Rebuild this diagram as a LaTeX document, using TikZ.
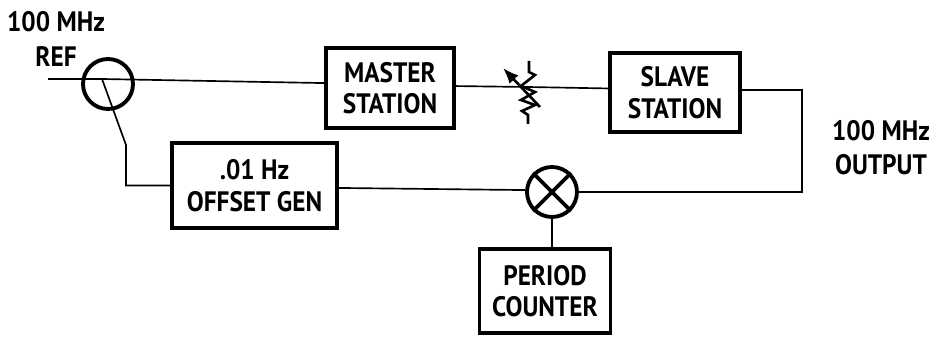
\documentclass[tikz,border=0pt]{standalone}
\usepackage{fontspec}
\setmainfont[FakeStretch=0.9]{PT Sans}
\usetikzlibrary{arrows.meta, positioning}

\begin{document}
\begin{tikzpicture}[
  x=0.02cm, y=-0.02cm,
  wire/.style={line width=0.95pt},
  box/.style={draw=black, line width=2.2pt, inner sep=0pt, align=center,
              font=\bfseries\fontsize{16}{18}\selectfont},
  roundel/.style={draw=black, line width=2.2pt, circle, inner sep=0pt, minimum size=1.0cm},
  lbl/.style={align=center, inner sep=0pt, font=\bfseries\fontsize{16}{19.5}\selectfont}
]
  \useasboundingbox (0,0) rectangle (948,337);
  \coordinate (in) at (48,79);
  \coordinate (junct) at (102,79);
  \node[roundel] (coupler) at (108,84) {};
  \node[lbl] (reflbl) at (56,39) {100 MHz\\REF};
  \node[box, minimum width=2.56cm, minimum height=1.6cm] (master) at (390,88) {MASTER\\STATION};
  \node[box, minimum width=2.6cm, minimum height=1.58cm] (slave) at (675,92.5) {SLAVE\\STATION};
  \node[box, minimum width=3.3cm, minimum height=1.7cm] (offset) at (254.5,185.5) {.01 Hz\\OFFSET GEN};
  \node[roundel] (mixer) at (552,192) {};
  \node[box, minimum width=2.62cm, minimum height=1.68cm] (counter) at (545,291) {PERIOD\\COUNTER};
  \node[lbl] (outlbl) at (881,148) {100 MHz\\OUTPUT};
  \coordinate (atten) at (528,87);
  \coordinate (elbow) at (802,90);
  \coordinate (tap) at (126,145);

  \draw[wire] (in) -- (junct) -- ([yshift=2.8pt]master.west);
  \draw[wire] ([yshift=1.1pt]master.east) -- (atten) -- ([yshift=2.3pt]slave.west);
  \draw[wire] (slave.east |- elbow) -- (elbow) |- (mixer.east);
  \draw[wire] ([yshift=-1.4pt]offset.east) -- ([yshift=1.1pt]mixer.west);
  \draw[wire] (mixer.south) -- (counter.north -| mixer.south);
  \draw[wire] (junct) -- (tap) |- (offset.west);
  \draw[line width=2.2pt] (mixer.45) -- (mixer.225) (mixer.135) -- (mixer.315);

  % variable attenuator
  \draw[line width=1.5pt] (529,61) -- (529,72) -- (535,75) -- (521,86) -- (535,92) -- (521,100) -- (535,105) -- (522,111) -- (528,115) -- (528,124);
  \draw[line width=1.5pt, -{Latex[length=9pt,width=7pt]}] (540,107) -- (503,68);
\end{tikzpicture}
\end{document}
